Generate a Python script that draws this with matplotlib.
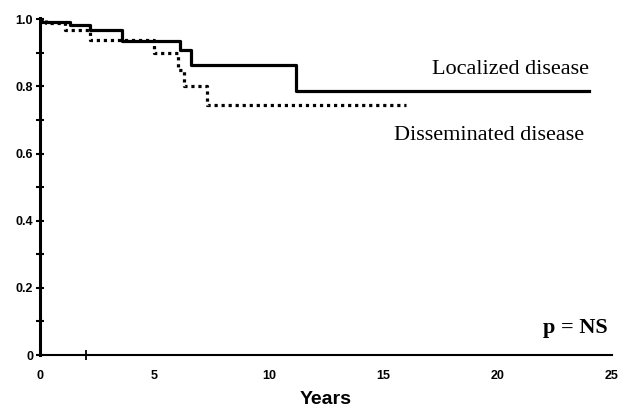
import matplotlib.pyplot as plt

# Kaplan-Meier steps (years, survival)
loc_t = [0, 1.3, 2.2, 3.6, 6.1, 6.6, 11.2, 24.0]
loc_s = [0.993, 0.983, 0.968, 0.935, 0.909, 0.864, 0.785, 0.785]

dis_t = [0, 0.25, 1.1, 2.2, 5.0, 6.05, 6.3, 7.3, 16.0]
dis_s = [1.0, 0.99, 0.967, 0.938, 0.90, 0.85, 0.80, 0.744, 0.744]

y_ticks = [0, 0.1, 0.2, 0.3, 0.4, 0.5, 0.6, 0.7, 0.8, 0.9, 1.0]
y_labels = ['0', '', '0.2', '', '0.4', '', '0.6', '', '0.8', '', '1.0']
x_ticks = [0, 5, 10, 15, 20, 25]
x_minor = [2, 25]


def plot_data():
    fig = plt.figure(figsize=(6.2, 4.09), dpi=100)
    ax = fig.add_axes([0.0645, 0.132, 0.9226, 0.825])

    ax.step(loc_t, loc_s, where='post', color='black', lw=2.3)
    ax.step(dis_t, dis_s, where='post', color='black', lw=2.3,
            linestyle=(0, (1, 1.2)))

    ax.set_xlim(0, 25)
    ax.set_ylim(0, 1.005)

    for s in ['top', 'right']:
        ax.spines[s].set_visible(False)
    ax.spines['left'].set_linewidth(2.2)
    ax.spines['bottom'].set_linewidth(1.5)

    ax.set_yticks(y_ticks)
    ax.set_yticklabels(y_labels)
    ax.tick_params(axis='y', direction='inout', length=6, width=1.5,
                   labelsize=9, pad=2)
    ax.set_xticks(x_ticks)
    ax.set_xticks(x_minor, minor=True)
    ax.tick_params(axis='x', which='major', length=0, labelsize=9, pad=11)
    ax.tick_params(axis='x', which='minor', direction='inout', length=7,
                   width=1.3)
    for lab in ax.get_xticklabels() + ax.get_yticklabels():
        lab.set_fontweight('bold')
        lab.set_family('Liberation Sans')

    ax.set_xlabel('Years', fontsize=14, fontweight='bold',
                  family='Liberation Sans', labelpad=6)

    ax.text(24.0, 0.838, 'Localized disease', fontsize=16,
            family='Liberation Serif', ha='right', va='baseline')
    ax.text(23.8, 0.64, 'Disseminated disease', fontsize=16,
            family='Liberation Serif', ha='right', va='baseline')
    ax.text(24.8, 0.05, 'p = NS', fontsize=16, fontweight='bold',
            family='Liberation Serif', ha='right', va='bottom')

    fig.savefig('out.png', dpi=100)


if __name__ == '__main__':
    plot_data()
